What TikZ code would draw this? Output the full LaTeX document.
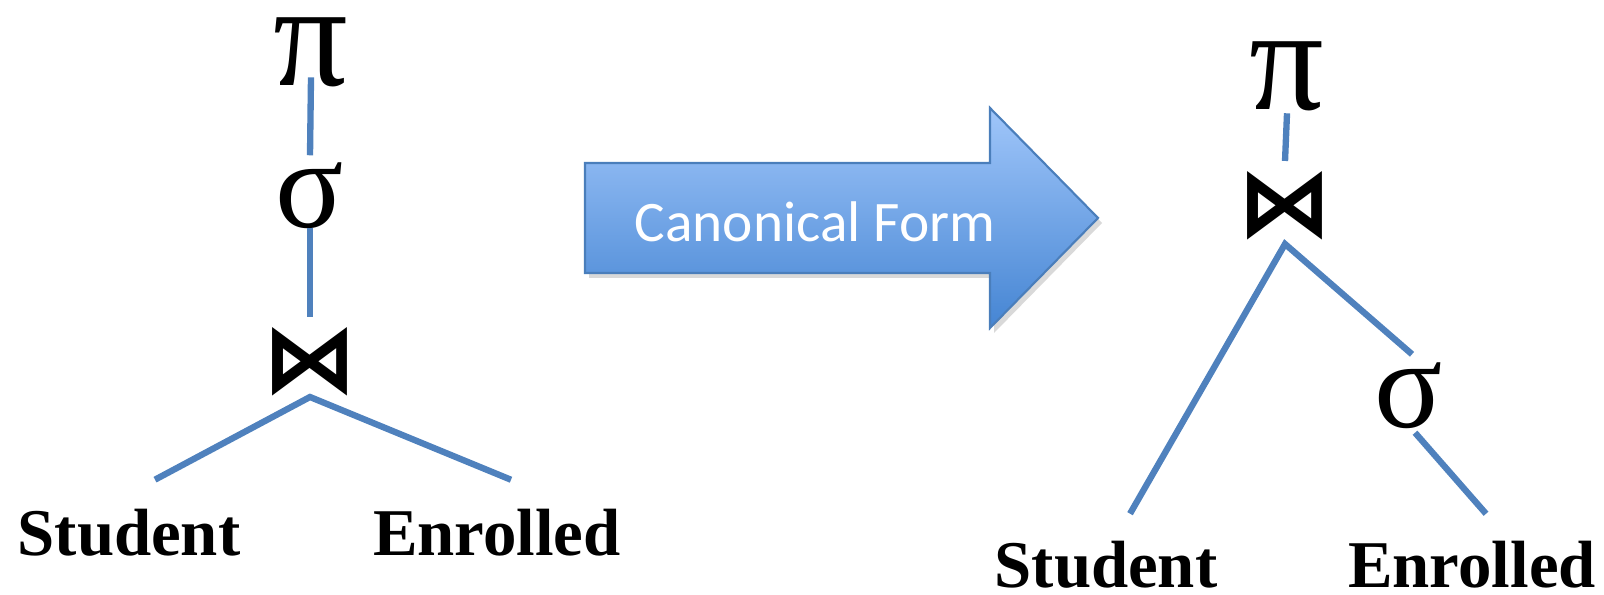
\documentclass[tikz,border=0pt]{standalone}
\usepackage{fontspec}
\setmainfont{Liberation Serif}
\newfontfamily\arrowfont{Carlito}
\newfontfamily\opfont{DejaVu Sans}
\definecolor{edgeblue}{HTML}{4F81BD}
\definecolor{arrowtop}{HTML}{A0C6FA}
\definecolor{arrowbot}{HTML}{4585D3}
\definecolor{arrowline}{HTML}{4A7EBB}
\begin{document}
\begin{tikzpicture}[x=0.01cm,y=0.01cm,
		edge/.style={draw=edgeblue, line width=1.8pt},
		op/.style={inner sep=0pt, font=\fontsize{36}{40}\selectfont},
		projop/.style={inner sep=0pt, font=\fontsize{42}{46}\selectfont},
		joinop/.style={inner sep=0pt, font=\opfont\bfseries\fontsize{27}{30}\selectfont},
		rel/.style={inner sep=0pt, font=\bfseries\fontsize{19}{22}\selectfont}]
		\useasboundingbox (0,0) rectangle (1604,595);
		% left tree
		\node[projop] (pi1) at (311,543) {π};
		\node[op] (sel1) at (310,399) {σ};
		\node[joinop] (join1) at (310,233) {⋈};
		\node[rel] (stud1) at (129,62) {Student};
		\node[rel] (enr1) at (497,62) {Enrolled};
		\draw[edge] ([yshift=0.1cm]pi1.south) -- ([yshift=0.07cm]sel1.north);
		\draw[edge] ([yshift=0.02cm]sel1.south) -- ([yshift=0.1cm]join1.north);
		\draw[edge] ([xshift=0.26cm,yshift=0.29cm]stud1.north) -- (join1.south) -- ([xshift=0.14cm,yshift=0.29cm]enr1.north);
		% arrow
		\fill[black, opacity=0.15] (589,427) -- (994,427) -- (994,482) -- (1102,372) -- (994,262) -- (994,317) -- (589,317) -- cycle;
		\shadedraw[top color=arrowtop, bottom color=arrowbot, draw=arrowline, line width=0.6pt]
			(585,432) -- (990,432) -- (990,487) -- (1098,377) -- (990,267) -- (990,322) -- (585,322) -- cycle;
		\node[font=\arrowfont\fontsize{16.3}{19}\selectfont, text=white, inner sep=0pt] (canon) at (815,373) {Canonical Form};
		% right tree
		\node[projop] (pi2) at (1287,519) {π};
		\node[joinop] (join2) at (1285,389) {⋈};
		\node[op] (sel2) at (1409,199) {σ};
		\node[rel] (stud2) at (1106,30) {Student};
		\node[rel] (enr2) at (1472,30) {Enrolled};
		\draw[edge] ([yshift=-0.02cm]pi2.south) -- ([yshift=0.1cm]join2.north);
		\draw[edge] ([xshift=0.24cm,yshift=0.27cm]stud2.north) -- ([yshift=-0.03cm]join2.south) -- ([xshift=0.03cm,yshift=0.08cm]sel2.north);
		\draw[edge] ([xshift=0.06cm,yshift=-0.03cm]sel2.south) -- ([xshift=0.14cm,yshift=0.27cm]enr2.north);
	\end{tikzpicture}
\end{document}
